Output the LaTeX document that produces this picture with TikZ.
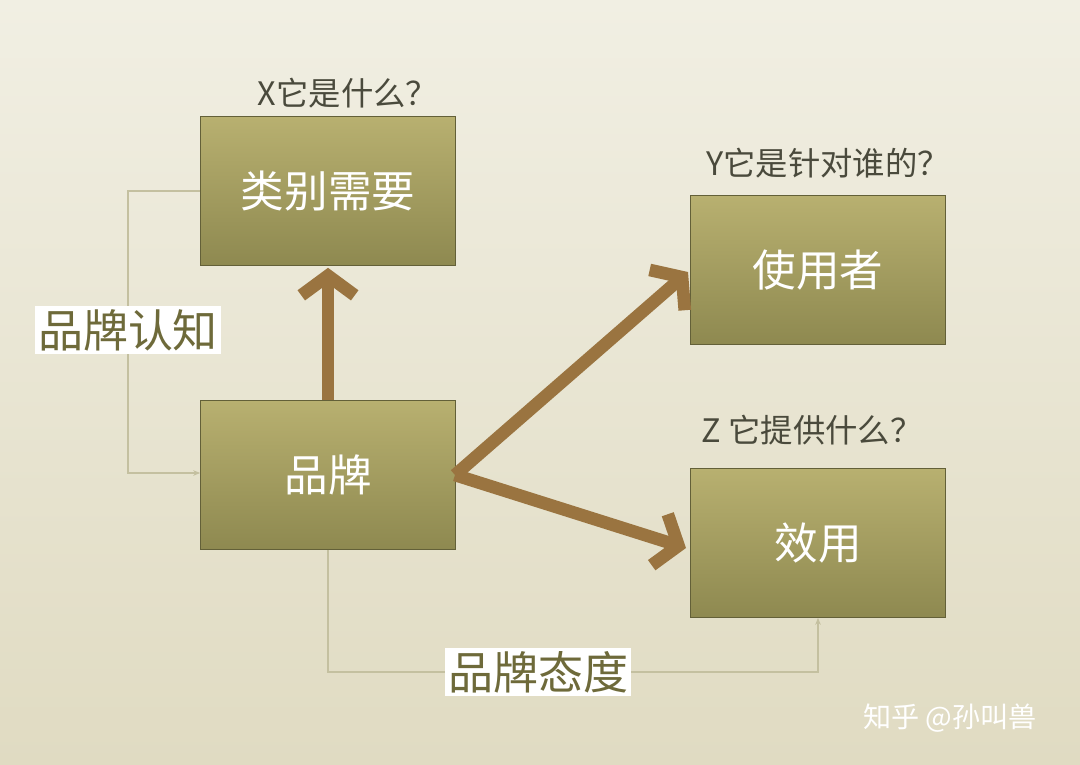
\documentclass[tikz,border=0pt]{standalone}
\usepackage{fontspec}
\newfontfamily\cjk{Noto Sans CJK SC}
\usetikzlibrary{arrows.meta}
\definecolor{boxA}{HTML}{B8B070}
\definecolor{boxB}{HTML}{8E8950}
\definecolor{thick}{HTML}{9A7440}
\definecolor{lbl}{HTML}{4A4A3C}
\definecolor{olive}{HTML}{6E6A3A}
\definecolor{thin}{HTML}{C4C0A0}
\definecolor{bgtop}{HTML}{F1EFE3}
\definecolor{bgbot}{HTML}{E0DBC2}
\tikzset{
 box/.style={draw=boxB!70!black, line width=0.4pt, top color=boxA, bottom color=boxB, minimum width=6.375cm, minimum height=3.725cm, text=white, font=\cjk\fontsize{31}{36}\selectfont},
 qlbl/.style={text=lbl, font=\cjk\fontsize{23}{26}\selectfont},
 wlbl/.style={fill=white, text=olive, inner sep=2pt, font=\cjk\fontsize{32}{36}\selectfont},
 big/.style={draw=thick, line width=9pt, -{Straight Barb[length=14pt,width=38pt,line width=9pt]}},
 small/.style={draw=thin, line width=0.8pt, -{Stealth[length=5pt,width=4pt]}}
}
\begin{document}
\begin{tikzpicture}[x=0.025cm,y=-0.025cm]
\shade[top color=bgtop, bottom color=bgbot] (0,0) rectangle (1080,764);
\useasboundingbox (0,0) rectangle (1080,764);
\node[box] (cat) at (328,191) {类别需要};
\node[box] (brand) at (328,475) {品牌};
\node[box] (user) at (818,270) {使用者};
\node[box] (util) at (818,543) {效用};
\node[qlbl] (qx) at (348,93) {X它是什么？};
\node[qlbl] (qy) at (828,163) {Y它是针对谁的？};
\node[qlbl] (qz) at (812,430) {Z 它提供什么？};
\coordinate (c1) at (128,191);
\coordinate (c2) at (128,473);
\draw[small] (cat.west) -- (c1) -- (c2) -- (brand.west|-c2);
\node[wlbl] (lc) at (128,330) {品牌认知};
\coordinate (d1) at (328,672);
\coordinate (d2) at (818,672);
\draw[small] (brand.south) -- (d1) -- (d2) -- (util.south);
\node[wlbl] (la) at (538,672) {品牌态度};
\coordinate (tip) at (455,475);
\draw[big] (brand.north) -- ([yshift=-0.05cm]cat.south);
\draw[big] (tip) -- (688,272);
\draw[big] (tip) -- (686,548);
\node[text=white, font=\cjk\fontsize{20}{24}\selectfont] (wm) at (950,718) {知乎 @孙叫兽};
\end{tikzpicture}
\end{document}
